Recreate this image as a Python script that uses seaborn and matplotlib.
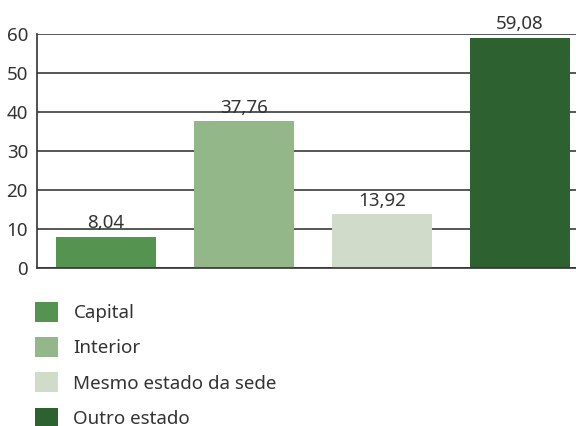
import matplotlib
matplotlib.use("Agg")
import matplotlib.pyplot as plt
import seaborn as sns
import pandas as pd
from matplotlib.patches import Patch

# -------------------- Data --------------------
categories = ["Capital", "Interior", "Mesmo estado da sede", "Outro estado"]
values = [8.04, 37.76, 13.92, 59.08]
colors = ["#549450", "#94b78a", "#d0dbca", "#2e6130"]
y_ticks = [0, 10, 20, 30, 40, 50, 60]

# -------------------- Style --------------------
sns.set_style("white")
plt.rcParams["font.family"] = ["Noto Sans", "DejaVu Sans"]
FS = 13.5
plt.rcParams["font.size"] = FS
text_color = "#333333"

df = pd.DataFrame({"cat": categories, "val": values})

fig = plt.figure(figsize=(5.76, 4.26), dpi=100)
ax = fig.add_axes([37 / 576, 158 / 426, 552 / 576, 234 / 426])

sns.barplot(data=df, x="cat", y="val", hue="cat", palette=colors,
            width=0.72, legend=False, ax=ax, saturation=1, linewidth=0)

# value labels with comma decimals
for cont, v in zip(ax.containers, values):
    ax.bar_label(cont, labels=[f"{v:.2f}".replace(".", ",")], padding=3,
                 color=text_color, fontsize=FS)

ax.set_xlim(-0.5, 3.5)
ax.set_ylim(0, 60)
ax.set_yticks(y_ticks)
ax.set_yticklabels([str(t) for t in y_ticks], color=text_color)
ax.tick_params(axis="y", length=0, pad=6.5)
ax.set_xticks([0.5, 1.5, 2.5])
ax.set_xticklabels([])
ax.tick_params(axis="x", direction="in", length=4, width=1, color="#333333")
ax.set_xlabel("")
ax.set_ylabel("")

ax.grid(axis="y", color="#4a4a4a", linewidth=1.3)
ax.set_axisbelow(True)
for s in ["top", "right"]:
    ax.spines[s].set_visible(False)
for s in ["left", "bottom"]:
    ax.spines[s].set_color("#333333")
    ax.spines[s].set_linewidth(1.2)

# legend below the chart
handles = [Patch(facecolor=c, edgecolor="none") for c in colors]
leg = fig.legend(handles, categories, loc="upper left",
                 bbox_to_anchor=(35 / 576, 1 - 302 / 426), frameon=False,
                 handlelength=1.25, handleheight=1.25, handletextpad=0.8,
                 labelspacing=0.80, fontsize=FS, labelcolor=text_color,
                 borderaxespad=0, borderpad=0)

fig.savefig("out.png", dpi=100)
